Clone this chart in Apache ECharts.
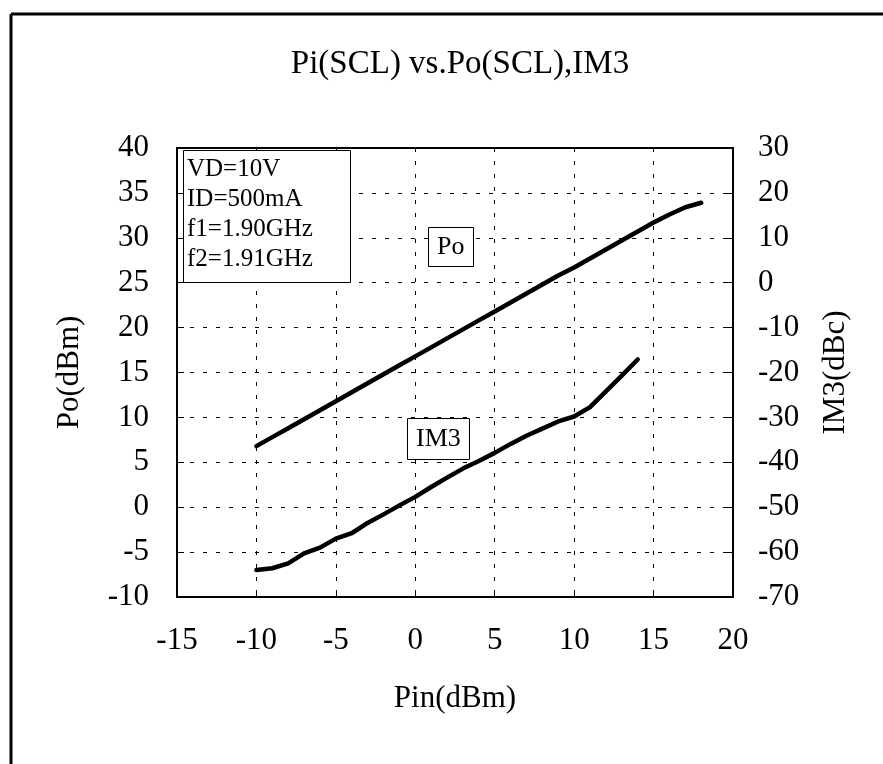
<!DOCTYPE html>
<html>
<head>
<meta charset="utf-8">
<script src="https://cdn.jsdelivr.net/npm/echarts@6/dist/echarts.min.js"></script>
<style>
  html, body { margin: 0; padding: 0; background: #fff; }
  #chart { width: 883px; height: 764px; }
</style>
</head>
<body>
<div id="chart"></div>
<script>
// 输入功率 Pin(dBm)
const pinPo = [-10, -9, -8, -7, -6, -5, -4, -3, -2, -1, 0, 1, 2, 3, 4, 5, 6, 7, 8, 9, 10, 11, 12, 13, 14, 15, 16, 17, 18]
const poVals = [6.8, 7.8, 8.8, 9.8, 10.8, 11.8, 12.8, 13.8, 14.8, 15.8, 16.8, 17.8, 18.8, 19.8, 20.8, 21.8, 22.8, 23.8, 24.8, 25.8, 26.7, 27.7, 28.7, 29.7, 30.7, 31.7, 32.6, 33.4, 33.9]
const pinIm3 = [-10, -9, -8, -7, -6, -5, -4, -3, -2, -1, 0, 1, 2, 3, 4, 5, 6, 7, 8, 9, 10, 11, 12, 13, 14]
const im3Vals = [-64, -63.6, -62.5, -60.3, -59, -57, -55.8, -53.5, -51.6, -49.6, -47.7, -45.5, -43.4, -41.4, -39.7, -37.9, -35.9, -34.1, -32.5, -30.9, -29.8, -27.7, -24.2, -20.7, -17.1]
const conditions = ['VD=10V', 'ID=500mA', 'f1=1.90GHz', 'f2=1.91GHz']

const FONT = '"Liberation Serif", "Times New Roman", serif'

let chart = echarts.init(document.getElementById('chart'))

let gridLine = {
  show: true,
  lineStyle: { color: '#000', width: 1, type: [4, 9] }
}
let labelStyle = { color: '#000', fontFamily: FONT, fontSize: 31 }
let frameLine = { show: true, onZero: false, lineStyle: { color: '#000', width: 2 } }

let option = {
  backgroundColor: '#fff',
  animation: false,
  title: [
    {
      text: 'Pi(SCL) vs.Po(SCL),IM3',
      left: 455,
      textAlign: 'center',
      top: 43,
      textStyle: { color: '#000', fontFamily: FONT, fontSize: 33, fontWeight: 'normal' }
    },
    {
      // 测试条件框
      text: conditions.join('\n'),
      left: 183,
      top: 150,
      padding: [4, 38, 9, 4],
      borderColor: '#000',
      borderWidth: 1,
      backgroundColor: '#fff',
      textStyle: { color: '#000', fontFamily: FONT, fontSize: 25, fontWeight: 'normal', lineHeight: 30 }
    },
    {
      text: 'Po',
      left: 428,
      top: 227,
      padding: [6, 9, 6, 9],
      borderColor: '#000',
      borderWidth: 1,
      backgroundColor: '#fff',
      textStyle: { color: '#000', fontFamily: FONT, fontSize: 26, fontWeight: 'normal', lineHeight: 28 }
    },
    {
      text: 'IM3',
      left: 407,
      top: 418,
      padding: [7, 9, 7, 9],
      borderColor: '#000',
      borderWidth: 1,
      backgroundColor: '#fff',
      textStyle: { color: '#000', fontFamily: FONT, fontSize: 26, fontWeight: 'normal', lineHeight: 28 }
    }
  ],
  grid: {
    left: 177,
    right: 150,
    top: 148,
    bottom: 167,
    show: true,
    borderColor: '#000',
    borderWidth: 2
  },
  xAxis: {
    type: 'value',
    min: -15,
    max: 20,
    interval: 5,
    name: 'Pin(dBm)',
    nameLocation: 'middle',
    nameGap: 86,
    nameTextStyle: labelStyle,
    axisLine: frameLine,
    axisTick: { show: true, inside: true, length: 6, lineStyle: { color: '#000' } },
    axisLabel: Object.assign({ margin: 28 }, labelStyle),
    splitLine: gridLine
  },
  yAxis: [
    {
      type: 'value',
      min: -10,
      max: 40,
      interval: 5,
      name: 'Po(dBm)',
      nameLocation: 'middle',
      nameGap: 92,
      nameTextStyle: labelStyle,
      axisLine: frameLine,
      axisTick: { show: true, inside: true, length: 7, lineStyle: { color: '#000' } },
      axisLabel: Object.assign({ margin: 28 }, labelStyle),
      splitLine: gridLine
    },
    {
      type: 'value',
      min: -70,
      max: 30,
      interval: 10,
      position: 'right',
      name: 'IM3(dBc)',
      nameLocation: 'middle',
      nameGap: 87,
      nameRotate: 90,
      nameTextStyle: labelStyle,
      axisLine: frameLine,
      axisTick: { show: true, inside: true, length: 7, lineStyle: { color: '#000' } },
      axisLabel: Object.assign({ margin: 25 }, labelStyle),
      splitLine: { show: false }
    }
  ],
  series: [
    {
      name: 'Po',
      type: 'line',
      yAxisIndex: 0,
      showSymbol: false,
      data: pinPo.map((x, i) => [x, poVals[i]]),
      lineStyle: { color: '#000', width: 4.5, join: 'round', cap: 'round' },
      z: 3
    },
    {
      name: 'IM3',
      type: 'line',
      yAxisIndex: 1,
      showSymbol: false,
      data: pinIm3.map((x, i) => [x, im3Vals[i]]),
      lineStyle: { color: '#000', width: 4.5, join: 'round', cap: 'round' },
      z: 3
    }
  ],
  graphic: [
    // 外框（仅左、上两边可见）
    { type: 'line', shape: { x1: 11, y1: 14, x2: 883, y2: 14 }, style: { stroke: '#000', lineWidth: 3 } },
    { type: 'line', shape: { x1: 11, y1: 14, x2: 11, y2: 764 }, style: { stroke: '#000', lineWidth: 3 } }
  ]
}

chart.setOption(option)
</script>
</body>
</html>
